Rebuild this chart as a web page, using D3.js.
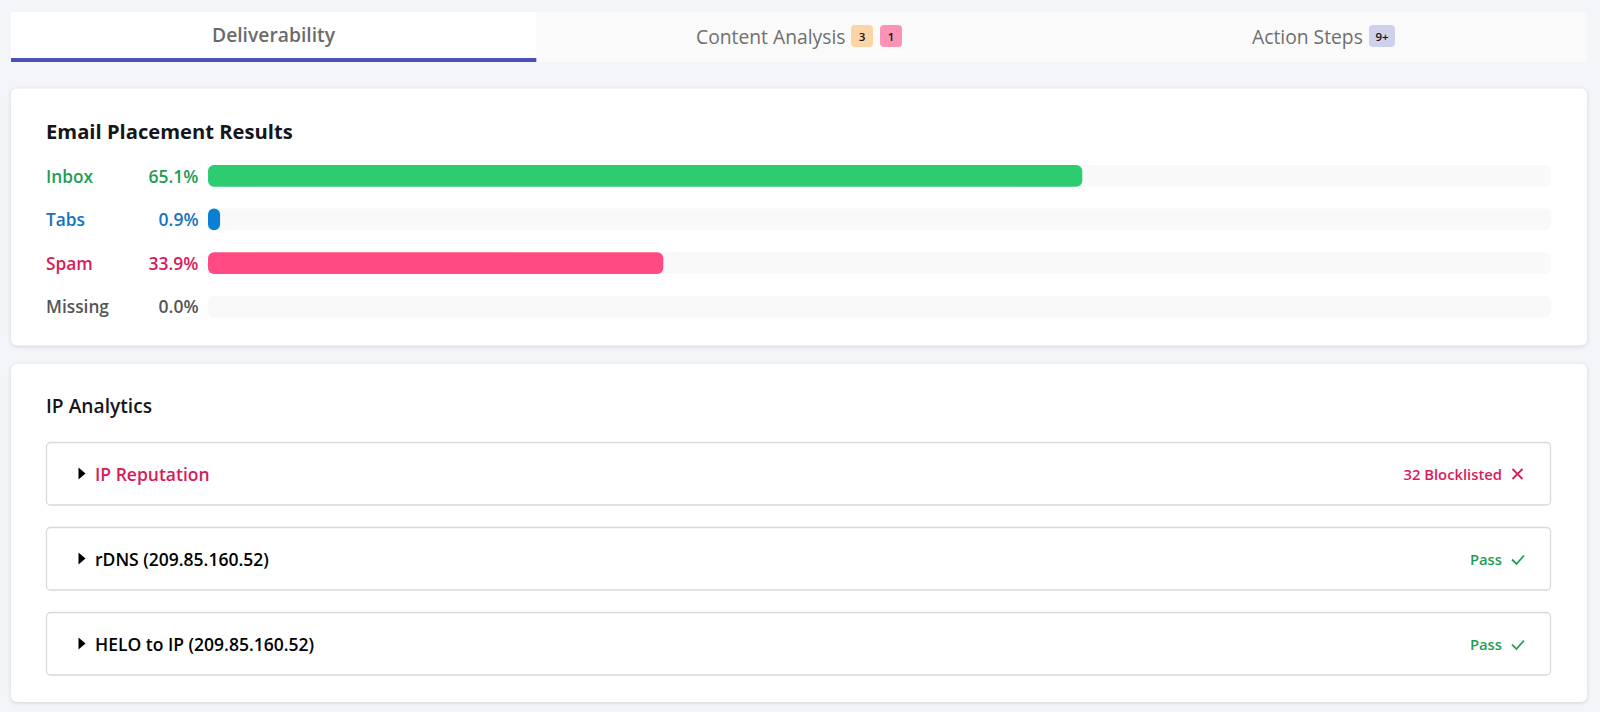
<!DOCTYPE html>
<html>
<head>
<meta charset="utf-8">
<script src="https://cdnjs.cloudflare.com/ajax/libs/d3/7.8.5/d3.min.js"></script>
<style>
  html, body { margin: 0; padding: 0; background: #f4f5f9; overflow: hidden; }
  svg { display: block; font-family: "Open Sans", "Noto Sans", sans-serif; }
  .card { fill: #fff; filter: drop-shadow(0 1px 2px rgba(40, 44, 70, 0.16)); }
</style>
</head>
<body>
<svg id="chart" width="1600" height="712"></svg>
<script>
// chart values
var tabNames = ["Deliverability", "Content Analysis", "Action Steps"];
var categories = ["Inbox", "Tabs", "Spam", "Missing"];
var placement = [65.1, 0.9, 33.9, 0.0];
var barColors = ["#2ecc71", "#0a7fd4", "#ff4b81", "#b8b8b8"];
var textColors = ["#1f9d55", "#1673bd", "#d81b5a", "#555555"];
var checks = ["IP Reputation", "rDNS (209.85.160.52)", "HELO to IP (209.85.160.52)"];
var checkResults = ["32 Blocklisted", "Pass", "Pass"];
var checkPassed = [false, true, true];

var svg = d3.select("#chart");

// tabs
var tabX = d3.scaleBand().domain(tabNames).range([11, 1587]);
svg.selectAll(".tab").data(tabNames).join("rect")
  .attr("class", "tab")
  .attr("x", d => tabX(d))
  .attr("y", 12)
  .attr("width", tabX.bandwidth())
  .attr("height", 50)
  .attr("shape-rendering", "crispEdges")
  .attr("fill", (d, i) => i == 0 ? "#ffffff" : "#fafafa");
svg.append("rect")
  .attr("x", tabX(tabNames[0]))
  .attr("y", 58)
  .attr("width", tabX.bandwidth())
  .attr("height", 4)
  .attr("fill", "#4b51b3");

svg.append("text").text(tabNames[0])
  .attr("x", 273.5).attr("y", 42)
  .attr("text-anchor", "middle")
  .attr("font-size", 19.3).attr("font-weight", 600).attr("fill", "#6b6b6b");
svg.append("text").text(tabNames[1])
  .attr("x", 696).attr("y", 44)
  .attr("font-size", 19.3).attr("fill", "#6f6f6f");
svg.append("text").text(tabNames[2])
  .attr("x", 1252).attr("y", 44)
  .attr("font-size", 19.3).attr("fill", "#6f6f6f");

// badges next to the tab names
function badge(x, w, label, color) {
  svg.append("rect")
    .attr("x", x).attr("y", 25).attr("width", w).attr("height", 22)
    .attr("rx", 4).attr("fill", color);
  svg.append("text").text(label)
    .attr("x", x + w / 2).attr("y", 41)
    .attr("text-anchor", "middle")
    .attr("font-size", 11.5).attr("font-weight", 600).attr("fill", "#111");
}
badge(851, 22, "3", "#fdd4a5");
badge(880, 22, "1", "#fb94b4");
badge(1369, 26, "9+", "#ced0ec");

// cards
svg.append("rect").attr("class", "card")
  .attr("x", 11).attr("y", 88.5).attr("width", 1576).attr("height", 257).attr("rx", 6);
svg.append("rect").attr("class", "card")
  .attr("x", 11).attr("y", 364).attr("width", 1576).attr("height", 338).attr("rx", 6);

svg.append("text").text("Email Placement Results")
  .attr("x", 46).attr("y", 138.5)
  .attr("font-size", 20.2).attr("font-weight", 700).attr("fill", "#15151a");

// placement bars
var x = d3.scaleLinear().domain([0, 100]).range([208, 1551]);
var y = d3.scaleBand().domain(categories).range([165, 317.5]).paddingInner(0.5);

var rows = svg.selectAll(".row").data(categories).join("g")
  .attr("class", "row")
  .attr("transform", d => "translate(0," + y(d) + ")");

rows.append("text").text(d => d)
  .attr("x", 46).attr("y", 17.5)
  .attr("font-size", 17.3).attr("font-weight", 600)
  .attr("fill", (d, i) => textColors[i]);

rows.append("text").text((d, i) => placement[i].toFixed(1) + "%")
  .attr("x", 198.5).attr("y", 17.5)
  .attr("text-anchor", "end")
  .attr("font-size", 17.5).attr("font-weight", 600)
  .attr("fill", (d, i) => textColors[i]);

rows.append("rect")
  .attr("x", x(0)).attr("width", x(100) - x(0))
  .attr("height", y.bandwidth()).attr("rx", 6)
  .attr("fill", "#f9f9fa");

rows.filter((d, i) => placement[i] > 0).append("rect")
  .attr("x", x(0))
  .attr("width", d => x(placement[categories.indexOf(d)]) - x(0))
  .attr("height", y.bandwidth()).attr("rx", 6)
  .attr("fill", d => barColors[categories.indexOf(d)]);

// ip analytics
svg.append("text").text("IP Analytics")
  .attr("x", 46).attr("y", 413)
  .attr("font-size", 19.2).attr("font-weight", 600).attr("fill", "#15151a");

var checkY = d3.scaleBand().domain(checks).range([442.5, 675]).paddingInner(0.265);

var items = svg.selectAll(".item").data(checks).join("g")
  .attr("class", "item")
  .attr("transform", d => "translate(0," + checkY(d) + ")");

items.append("rect")
  .attr("x", 46.5).attr("width", 1504)
  .attr("height", checkY.bandwidth()).attr("rx", 4)
  .attr("fill", "#fff").attr("stroke", "#d9d9dc").attr("stroke-width", 1.3);

items.append("path")
  .attr("d", "M78.5 25L85.5 31L78.5 37Z")
  .attr("fill", "#000");

items.append("text").text(d => d)
  .attr("x", 95).attr("y", 38.5)
  .attr("font-size", 17.5).attr("font-weight", 600)
  .attr("fill", (d, i) => checkPassed[i] ? "#000" : "#d81b5a");

items.append("text").text((d, i) => checkResults[i])
  .attr("x", 1502).attr("y", 37.5)
  .attr("text-anchor", "end")
  .attr("font-size", 14.8).attr("font-weight", 600)
  .attr("fill", (d, i) => checkPassed[i] ? "#1f9d55" : "#d81b5a");

items.append("path")
  .attr("d", (d, i) => checkPassed[i] ? "M1512 32L1516.5 36.5L1524 28" : "M1512.5 26.5L1522.5 36.5M1522.5 26.5L1512.5 36.5")
  .attr("fill", "none")
  .attr("stroke-width", 1.8)
  .attr("stroke", (d, i) => checkPassed[i] ? "#1f9d55" : "#d81b5a");
</script>
</body>
</html>
